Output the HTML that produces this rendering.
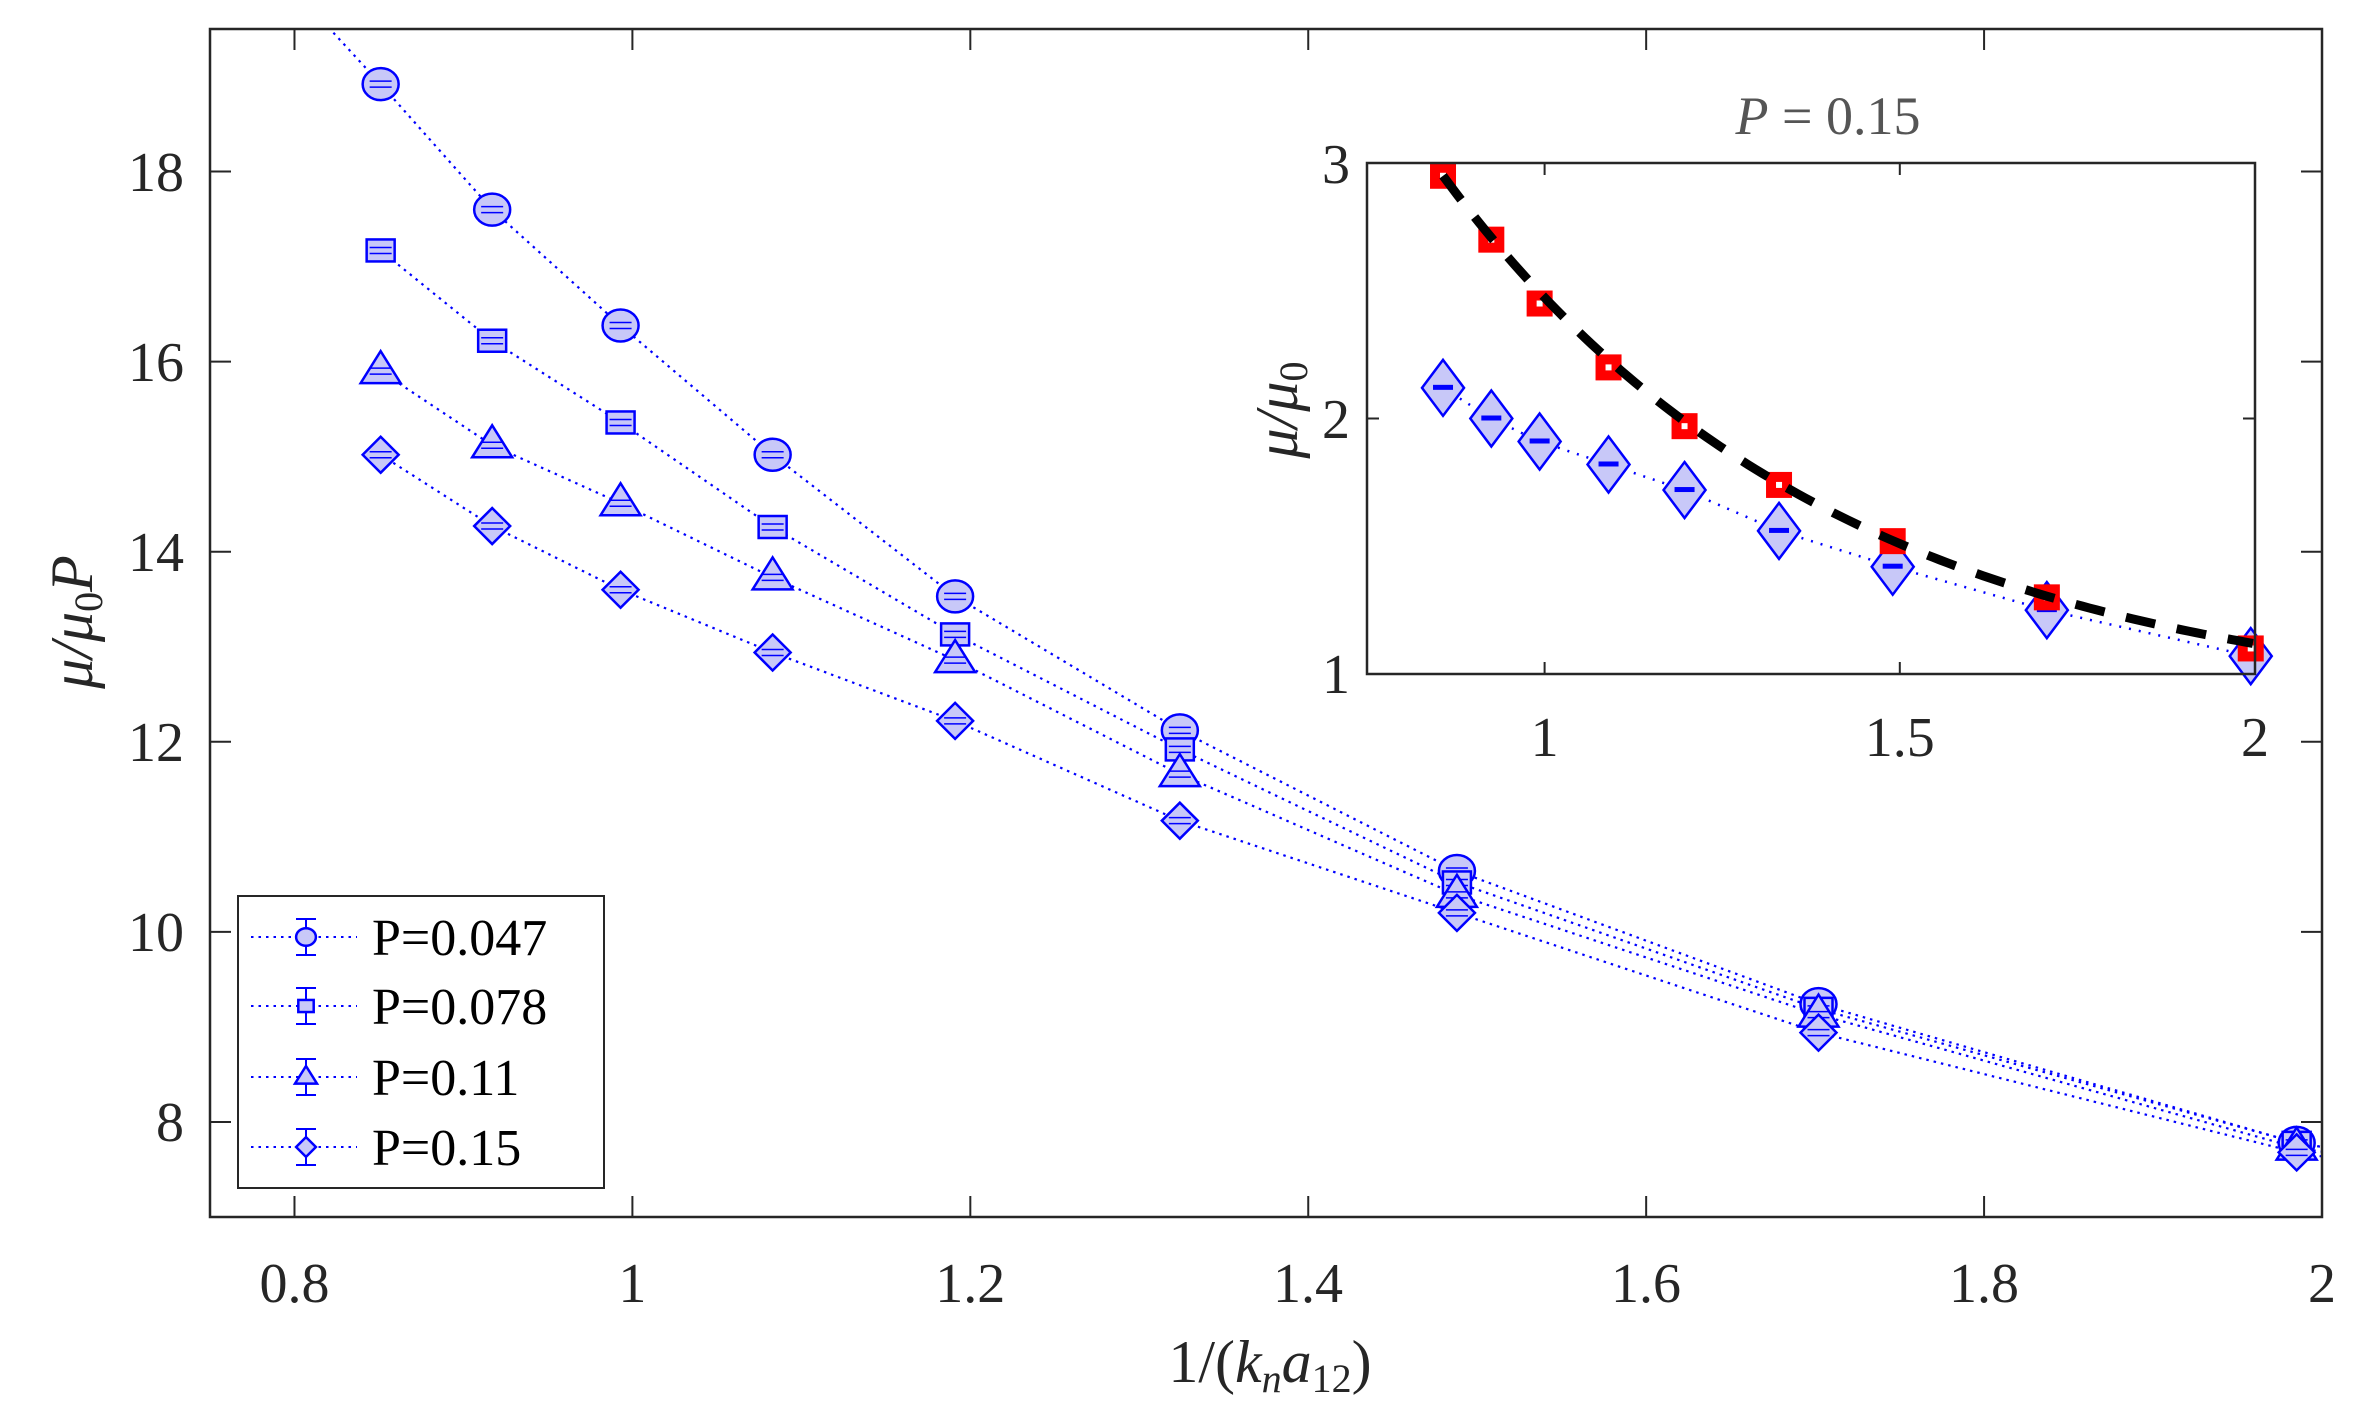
<!DOCTYPE html>
<html><head><meta charset="utf-8"><style>
html,body{margin:0;padding:0;background:#fff;}
svg{display:block;}
text{font-family:"Liberation Serif",serif;fill:#262626;}
</style></head><body>
<svg id="s" width="2357" height="1412" viewBox="0 0 2357 1412" xmlns="http://www.w3.org/2000/svg">
<rect width="2357" height="1412" fill="#fff"/>
<g id="main"></g>
<rect x="210" y="29" width="2112" height="1188" fill="none" stroke="#262626" stroke-width="2.5"/>
<g id="ticks" stroke="#262626" stroke-width="2"></g>
<g font-size="56" text-anchor="middle">
<text x="294.5" y="1302">0.8</text><text x="632.4" y="1302">1</text><text x="970.3" y="1302">1.2</text>
<text x="1308" y="1302">1.4</text><text x="1646" y="1302">1.6</text><text x="1984" y="1302">1.8</text><text x="2322" y="1302">2</text>
</g>
<g font-size="56" text-anchor="end">
<text x="184" y="191">18</text><text x="184" y="381">16</text><text x="184" y="571">14</text>
<text x="184" y="761">12</text><text x="184" y="951">10</text><text x="184" y="1141">8</text>
</g>
<text x="1270" y="1382" font-size="60" text-anchor="middle" font-style="italic"><tspan font-style="normal">1/(</tspan>k<tspan font-size="40" dy="10">n</tspan><tspan dy="-10">a</tspan><tspan font-size="40" dy="10" font-style="normal">12</tspan><tspan dy="-10" font-style="normal">)</tspan></text>
<text transform="translate(92,622) rotate(-90)" font-size="60" text-anchor="middle" font-style="italic">μ/μ<tspan font-size="40" dy="10" font-style="normal">0</tspan><tspan dy="-10">P</tspan></text>
<rect x="238" y="896" width="366" height="292" fill="#fff" stroke="#262626" stroke-width="2"/>
<g id="leg"></g>
<g font-size="52">
<text x="372" y="955" style="fill:#000">P=0.047</text>
<text x="372" y="1024" style="fill:#000">P=0.078</text>
<text x="372" y="1095" style="fill:#000">P=0.11</text>
<text x="372" y="1165" style="fill:#000">P=0.15</text>
</g>
<rect x="1367" y="163" width="888" height="511" fill="#fff"/>
<g id="inset"></g>
<rect x="1367" y="163" width="888" height="511" fill="none" stroke="#262626" stroke-width="2.5"/>
<g id="iticks" stroke="#262626" stroke-width="2"></g>
<g font-size="56" text-anchor="middle">
<text x="1544.6" y="756">1</text><text x="1899.8" y="756">1.5</text><text x="2255" y="756">2</text>
</g>
<g font-size="56" text-anchor="end">
<text x="1350" y="183">3</text><text x="1350" y="438">2</text><text x="1350" y="693">1</text>
</g>
<text x="1828" y="134" font-size="54" text-anchor="middle" style="fill:#555"><tspan font-style="italic">P</tspan> = 0.15</text>
<text transform="translate(1297,410) rotate(-90)" font-size="60" text-anchor="middle" font-style="italic">μ/μ<tspan font-size="40" dy="10" font-style="normal">0</tspan></text>
</svg>
<script>
var NS="http://www.w3.org/2000/svg";
function el(p,t,a){var e=document.createElementNS(NS,t);for(var k in a)e.setAttribute(k,a[k]);p.appendChild(e);return e;}
var X=function(x){return 210+(x-0.75)*1689.6;}, Y=function(y){return 29+(19.5-y)*95.04;};
var IX=function(x){return 1367+(x-0.75)*710.4;}, IY=function(y){return 163+(3-y)*255.5;};
var tk=document.getElementById('ticks');
[0.8,1,1.2,1.4,1.6,1.8].forEach(function(v){var x=X(v);el(tk,'line',{x1:x,y1:1217,x2:x,y2:1196});el(tk,'line',{x1:x,y1:29,x2:x,y2:50});});
[8,10,12,14,16,18].forEach(function(v){var y=Y(v);el(tk,'line',{x1:210,y1:y,x2:231,y2:y});el(tk,'line',{x1:2322,y1:y,x2:2301,y2:y});});
var it=document.getElementById('iticks');
[1,1.5].forEach(function(v){var x=IX(v);el(it,'line',{x1:x,y1:674,x2:x,y2:662});el(it,'line',{x1:x,y1:163,x2:x,y2:175});});
[2].forEach(function(v){var y=IY(v);el(it,'line',{x1:1367,y1:y,x2:1379,y2:y});el(it,'line',{x1:2255,y1:y,x2:2243,y2:y});});
var xs=[0.851,0.917,0.993,1.083,1.191,1.324,1.488,1.702,1.985];
var S=[[18.92,17.6,16.38,15.02,13.53,12.12,10.64,9.24,7.78],
[17.17,16.22,15.36,14.26,13.13,11.92,10.52,9.19,7.78],
[15.9,15.12,14.51,13.73,12.86,11.66,10.39,9.13,7.73],
[15.02,14.27,13.6,12.94,12.22,11.17,10.2,8.94,7.68]];
var B='#0000ff',F='#c8c8f8';
function marker(g,k,cx,cy,sc){
 sc=sc||1;var a={fill:F,stroke:B,'stroke-width':2.5};
 if(k==0){a.cx=cx;a.cy=cy;a.rx=18*sc;a.ry=16*sc;el(g,'ellipse',a);}
 else if(k==1){a.x=cx-14*sc;a.y=cy-11*sc;a.width=28*sc;a.height=22*sc;el(g,'rect',a);}
 else if(k==2){a.points=(cx)+','+(cy-20*sc)+' '+(cx+20*sc)+','+(cy+12*sc)+' '+(cx-20*sc)+','+(cy+12*sc);el(g,'polygon',a);}
 else {a.points=(cx)+','+(cy-18*sc)+' '+(cx+18*sc)+','+cy+' '+(cx)+','+(cy+18*sc)+' '+(cx-18*sc)+','+cy;el(g,'polygon',a);}
}
var m=document.getElementById('main');
var clip=el(el(m,'defs',{}),'clipPath',{id:'cp'});el(clip,'rect',{x:210,y:29,width:2112,height:1188});
var mg=el(m,'g',{'clip-path':'url(#cp)'});
S.forEach(function(s,k){
 var pts=s.map(function(v,i){return X(xs[i])+','+Y(v);});
 if(k==0)pts.unshift(X(0.79)+','+Y(20.1));
 pts.push(X(2.02)+','+Y(s[8]-0.1));
 el(mg,'polyline',{points:pts.join(' '),fill:'none',stroke:B,'stroke-width':2.2,'stroke-dasharray':'2.5 5'});
});
S.forEach(function(s,k){s.forEach(function(v,i){var cx=X(xs[i]),cy=Y(v);marker(mg,k,cx,cy);
 el(mg,'line',{x1:cx-11,y1:cy-3,x2:cx+11,y2:cy-3,stroke:B,'stroke-width':1.5});el(mg,'line',{x1:cx-11,y1:cy+3,x2:cx+11,y2:cy+3,stroke:B,'stroke-width':1.5});});});
var lg=document.getElementById('leg');
[937,1006,1077,1147].forEach(function(y,k){
 el(lg,'line',{x1:251,y1:y,x2:357,y2:y,stroke:B,'stroke-width':2,'stroke-dasharray':'2.5 5'});
 el(lg,'line',{x1:306,y1:y-18,x2:306,y2:y+18,stroke:B,'stroke-width':2});
 el(lg,'line',{x1:296,y1:y-18,x2:316,y2:y-18,stroke:B,'stroke-width':2});
 el(lg,'line',{x1:296,y1:y+18,x2:316,y2:y+18,stroke:B,'stroke-width':2});
 marker(lg,k,306,y,0.55);
});
var ig=document.getElementById('inset');
var ix=[0.857,0.925,0.993,1.09,1.197,1.33,1.49,1.707,1.994];
var red=[2.95,2.70,2.45,2.20,1.97,1.74,1.52,1.30,1.10];
var dia=[2.12,2.0,1.91,1.82,1.72,1.56,1.42,1.25,1.07];
el(ig,'polyline',{points:dia.map(function(v,i){return IX(ix[i])+','+IY(v);}).join(' '),fill:'none',stroke:B,'stroke-width':2.5,'stroke-dasharray':'2 8'});
dia.forEach(function(v,i){var cx=IX(ix[i]),cy=IY(v);
 el(ig,'polygon',{points:cx+','+(cy-28)+' '+(cx+21)+','+cy+' '+cx+','+(cy+28)+' '+(cx-21)+','+cy,fill:F,stroke:B,'stroke-width':2.5});
 el(ig,'rect',{x:cx-10,y:cy-3,width:20,height:5,fill:B});});
red.forEach(function(v,i){var cx=IX(ix[i]),cy=IY(v);
 el(ig,'rect',{x:cx-13,y:cy-13,width:26,height:26,fill:'#ff0000'});
 el(ig,'rect',{x:cx-3,y:cy-3,width:6,height:6,fill:'#fff'});});
var d='';for(var x=0.857;x<=2.0001;x+=0.01){var yy=0.85+2.1*Math.exp(-(x-0.857)*1.8);d+=(d?' L':'M')+IX(x)+','+IY(yy);}
el(ig,'path',{d:d,fill:'none',stroke:'#000','stroke-width':9,'stroke-dasharray':'30 22'});
</script>
</body></html>
